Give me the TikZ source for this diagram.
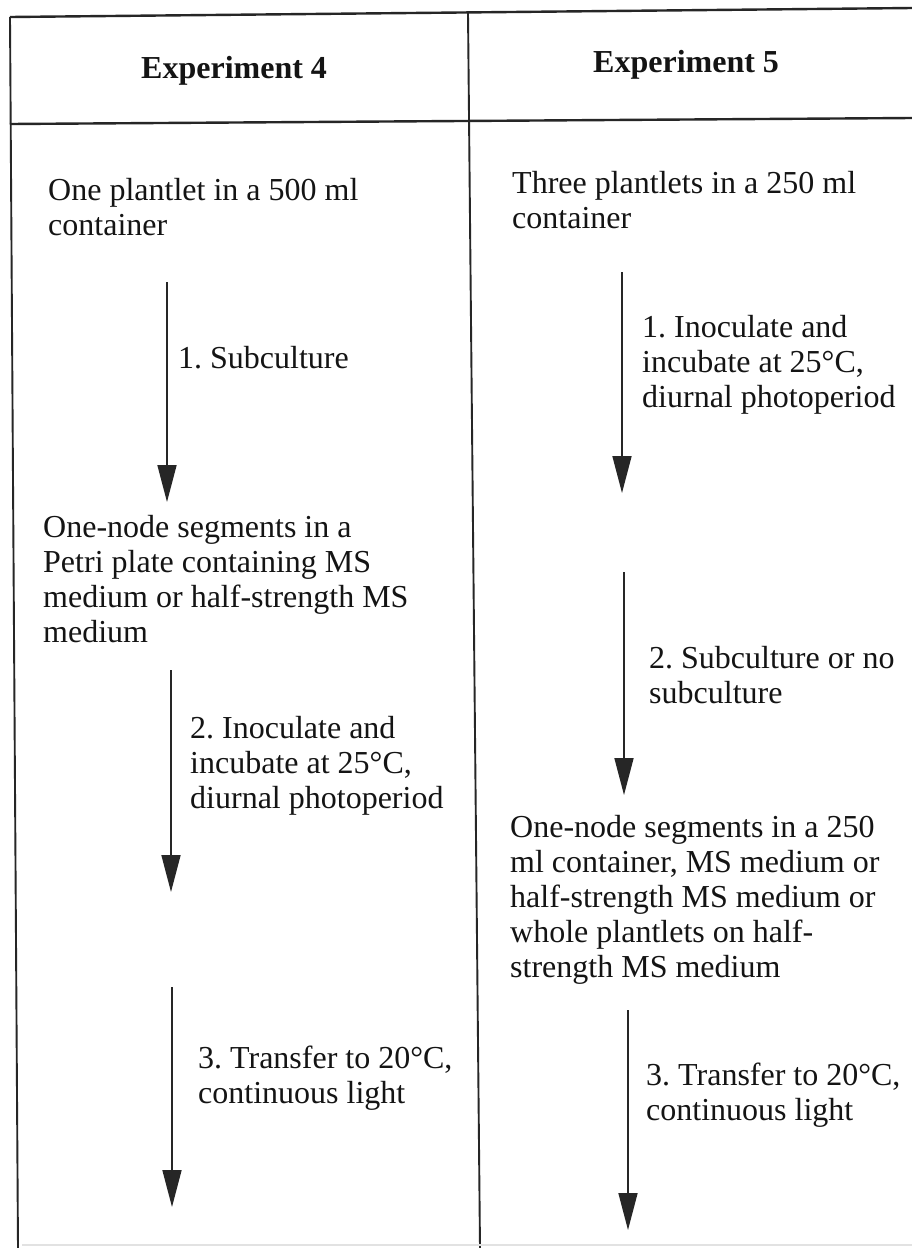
\documentclass[tikz,border=0pt]{standalone}
\usepackage{fontspec}
\setmainfont{Liberation Serif}
\usetikzlibrary{arrows.meta}
\definecolor{ink}{HTML}{141414}
\definecolor{rule}{HTML}{262626}
\definecolor{faint}{HTML}{E2E2E2}
\tikzset{
  body/.style={anchor=north west, inner sep=0pt, align=left, text=ink,
    font=\fontsize{32}{35}\selectfont\frenchspacing},
  head/.style={anchor=base west, inner sep=0pt, text=ink,
    font=\fontsize{32}{35}\selectfont\bfseries},
  flow/.style={draw=rule, line width=1.7pt,
    -{Triangle[length=37pt,width=19pt,fill=rule]}},
  border/.style={draw=rule, line width=2.4pt},
  inner/.style={draw=rule, line width=1.9pt}
}
\begin{document}
\begin{tikzpicture}[x=1pt,y=-1pt]
\useasboundingbox[fill=white] (0,0) rectangle (912,1248);
% table
\draw[border] (10,17) -- (912,8);
\draw[border] (10,124) -- (912,118);
\draw[inner] (10,17) -- (18,1248);
\draw[inner] (468,13) -- (480,1248);
\draw[draw=faint, line width=1.2pt] (22,1245) -- (912,1245);
% headers
\node[head] (h4) at (141,78) {Experiment 4};
\node[head] (h5) at (593,72) {Experiment 5};
% left column
\node[body] (l1) at (48,178) {One plantlet in a 500 ml\\container};
\coordinate (la1s) at (167,282);
\coordinate (la1e) at (167,502);
\draw[flow] (la1s) -- (la1e);
\node[body] (ll1) at (178,346) {1. Subculture};
\node[body] (l2) at (43,515) {One-node segments in a\\Petri plate containing MS\\medium or half-strength MS\\medium};
\coordinate (la2s) at (171,670);
\coordinate (la2e) at (171,892);
\draw[flow] (la2s) -- (la2e);
\node[body] (ll2) at (190,716) {2. Inoculate and\\incubate at 25°C,\\diurnal photoperiod};
\coordinate (la3s) at (172,987);
\coordinate (la3e) at (172,1207);
\draw[flow] (la3s) -- (la3e);
\node[body] (ll3) at (198,1046) {3. Transfer to 20°C,\\continuous light};
% right column
\node[body] (r1) at (512,171) {Three plantlets in a 250 ml\\container};
\coordinate (ra1s) at (622,272);
\coordinate (ra1e) at (622,493);
\draw[flow] (ra1s) -- (ra1e);
\node[body] (rl1) at (642,315) {1. Inoculate and\\incubate at 25°C,\\diurnal photoperiod};
\coordinate (ra2s) at (624,572);
\coordinate (ra2e) at (624,795);
\draw[flow] (ra2s) -- (ra2e);
\node[body] (rl2) at (649,646) {2. Subculture or no\\subculture};
\node[body] (r3) at (510,815) {One-node segments in a 250\\ml container, MS medium or\\half-strength MS medium or\\whole plantlets on half-\\strength MS medium};
\coordinate (ra3s) at (628,1010);
\coordinate (ra3e) at (628,1230);
\draw[flow] (ra3s) -- (ra3e);
\node[body] (rl3) at (646,1063) {3. Transfer to 20°C,\\continuous light};
\end{tikzpicture}
\end{document}
